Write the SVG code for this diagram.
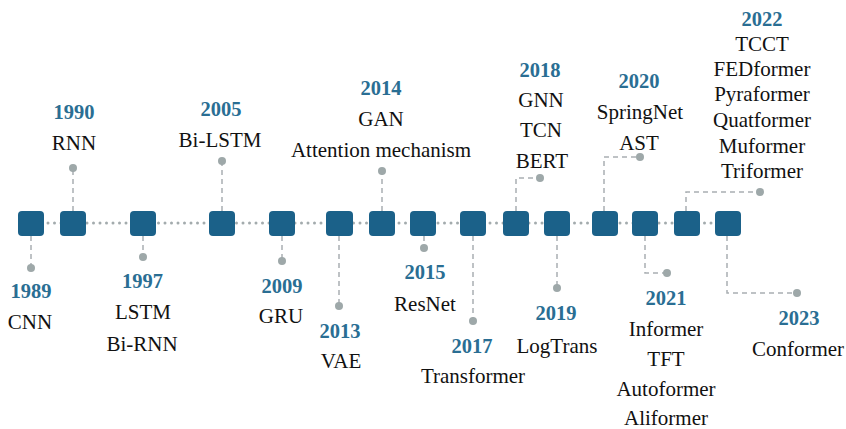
<svg xmlns="http://www.w3.org/2000/svg" width="846" height="429" viewBox="0 0 846 429">
<style>
.box{fill:#1b6189}
.conn{fill:none;stroke:#a9afb2;stroke-width:1.5;stroke-dasharray:5 4}
.dot{fill:#9ea8a9}
.axis{fill:none;stroke:#a3abad;stroke-width:3;stroke-dasharray:0 6.5;stroke-linecap:round}
text{font-family:'Liberation Serif','Times New Roman',Tinos,'DejaVu Serif',serif;text-anchor:middle}
.yr{font-weight:bold;font-size:20.5px;fill:#2a6e93}
.nm{font-size:21px;fill:#111}
</style>
<rect width="846" height="429" fill="#fff"/>
<g id="axis">
<line class="axis" x1="22" y1="223" x2="738" y2="223"/>
</g>
<g id="connectors">
<path class="conn" d="M31 236V268"/>
<path class="conn" d="M73 211V168"/>
<path class="conn" d="M143 236V257"/>
<path class="conn" d="M222 211V161"/>
<path class="conn" d="M282 236V261"/>
<path class="conn" d="M339 236V306"/>
<path class="conn" d="M382 211V171"/>
<path class="conn" d="M424 236V248"/>
<path class="conn" d="M473 236V321"/>
<path class="conn" d="M516 211V178H540"/>
<path class="conn" d="M557 236V288"/>
<path class="conn" d="M604 211V157H640"/>
<path class="conn" d="M645 236V273H667"/>
<path class="conn" d="M686 211V192H760"/>
<path class="conn" d="M727 236V293H797"/>
<circle class="dot" cx="31" cy="268" r="4"/>
<circle class="dot" cx="73" cy="168" r="4"/>
<circle class="dot" cx="143" cy="257" r="4"/>
<circle class="dot" cx="222" cy="161" r="4"/>
<circle class="dot" cx="282" cy="261" r="4"/>
<circle class="dot" cx="339" cy="306" r="4"/>
<circle class="dot" cx="382" cy="171" r="4"/>
<circle class="dot" cx="424" cy="248" r="4"/>
<circle class="dot" cx="473" cy="321" r="4"/>
<circle class="dot" cx="540" cy="178" r="4"/>
<circle class="dot" cx="557" cy="288" r="4"/>
<circle class="dot" cx="640" cy="157" r="4"/>
<circle class="dot" cx="667" cy="273" r="4"/>
<circle class="dot" cx="760" cy="192" r="4"/>
<circle class="dot" cx="797" cy="293" r="4"/>
</g>
<g id="n1989"><rect class="box" x="18" y="211" width="26" height="25" rx="4"/><text class="yr" x="31" y="298">1989</text><text class="nm" x="30" y="329">CNN</text></g>
<g id="n1990"><rect class="box" x="60" y="211" width="26" height="25" rx="4"/><text class="yr" x="74" y="119">1990</text><text class="nm" x="74" y="150">RNN</text></g>
<g id="n1997"><rect class="box" x="130" y="211" width="26" height="25" rx="4"/><text class="yr" x="142.5" y="288">1997</text><text class="nm" x="143" y="319">LSTM</text><text class="nm" x="142" y="351">Bi-RNN</text></g>
<g id="n2005"><rect class="box" x="209" y="211" width="26" height="25" rx="4"/><text class="yr" x="221" y="116">2005</text><text class="nm" x="220" y="147">Bi-LSTM</text></g>
<g id="n2009"><rect class="box" x="269" y="211" width="26" height="25" rx="4"/><text class="yr" x="282" y="293">2009</text><text class="nm" x="281" y="323">GRU</text></g>
<g id="n2013"><rect class="box" x="326" y="211" width="27" height="25" rx="4"/><text class="yr" x="340" y="338">2013</text><text class="nm" x="341" y="368">VAE</text></g>
<g id="n2014"><rect class="box" x="369" y="211" width="26" height="25" rx="4"/><text class="yr" x="381" y="95">2014</text><text class="nm" x="381" y="126">GAN</text><text class="nm" x="381" y="157">Attention mechanism</text></g>
<g id="n2015"><rect class="box" x="410" y="211" width="26" height="25" rx="4"/><text class="yr" x="425" y="279">2015</text><text class="nm" x="425" y="311">ResNet</text></g>
<g id="n2017"><rect class="box" x="460" y="211" width="26" height="25" rx="4"/><text class="yr" x="472" y="353">2017</text><text class="nm" x="473" y="383">Transformer</text></g>
<g id="n2018"><rect class="box" x="503" y="211" width="26" height="25" rx="4"/><text class="yr" x="540" y="77">2018</text><text class="nm" x="541" y="107">GNN</text><text class="nm" x="541" y="137">TCN</text><text class="nm" x="542" y="168">BERT</text></g>
<g id="n2019"><rect class="box" x="544" y="211" width="26" height="25" rx="4"/><text class="yr" x="556" y="320">2019</text><text class="nm" x="557" y="353">LogTrans</text></g>
<g id="n2020"><rect class="box" x="592" y="211" width="26" height="25" rx="4"/><text class="yr" x="639" y="88">2020</text><text class="nm" x="640" y="119">SpringNet</text><text class="nm" x="639" y="150">AST</text></g>
<g id="n2021"><rect class="box" x="632" y="211" width="26" height="25" rx="4"/><text class="yr" x="666" y="305">2021</text><text class="nm" x="666" y="336">Informer</text><text class="nm" x="666" y="366">TFT</text><text class="nm" x="666" y="396">Autoformer</text><text class="nm" x="666" y="425">Aliformer</text></g>
<g id="n2022"><rect class="box" x="674" y="211" width="26" height="25" rx="4"/><text class="yr" x="762" y="26">2022</text><text class="nm" x="762" y="51">TCCT</text><text class="nm" x="762" y="76">FEDformer</text><text class="nm" x="762" y="101">Pyraformer</text><text class="nm" x="762" y="127">Quatformer</text><text class="nm" x="762" y="153">Muformer</text><text class="nm" x="762" y="178">Triformer</text></g>
<g id="n2023"><rect class="box" x="715" y="211" width="26" height="25" rx="4"/><text class="yr" x="799" y="325">2023</text><text class="nm" x="798" y="356">Conformer</text></g>
</svg>
